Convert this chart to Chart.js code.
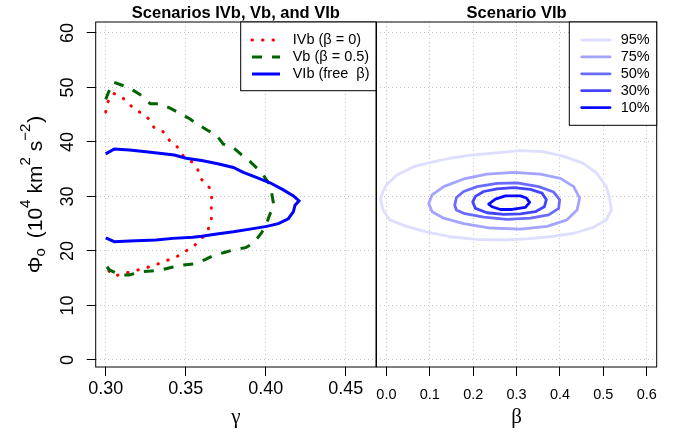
<!DOCTYPE html>
<html>
<head>
<meta charset="utf-8">
<script src="https://cdn.jsdelivr.net/npm/chart.js@4.4.1/dist/chart.umd.min.js"></script>
<style>
  html, body { margin: 0; padding: 0; background: #fff; }
  #wrap { position: relative; width: 683px; height: 437px; overflow: hidden; }
  canvas { position: absolute; top: 0; }
  #left { left: 0; }
  #right { left: 366px; }
</style>
</head>
<body>
<div id="wrap">
  <canvas id="left" width="377" height="437"></canvas>
  <canvas id="right" width="317" height="437"></canvas>
</div>
<script>
// left panel: gamma vs Phi_o contours
const gammaIVb = [0.300,0.3016,0.305,0.3106,0.3154,0.321,0.3266,0.330,0.3363,0.340,0.345,0.3485,0.354,0.3575,0.360,0.3648,0.3662,0.366,0.366,0.3641,0.3604,0.3554,0.3502,0.3441,0.3379,0.3316,0.3252,0.3188,0.312,0.3056,0.3008];
const phiIVb = [45.5,47.5,48.9,48.1,46.7,45.5,44.3,42.7,41.8,40.2,39.0,37.4,36.3,34.9,33.1,31.6,29.9,27.8,25.9,24.0,22.4,21.0,20.0,18.9,18.2,17.5,16.9,16.4,15.9,15.4,16.6];

const gammaVb = [0.300,0.3019,0.3048,0.3102,0.3175,0.3225,0.3279,0.3338,0.3408,0.346,0.3527,0.3571,0.3638,0.369,0.3735,0.3791,0.3846,0.3891,0.3948,0.3985,0.4027,0.4038,0.4052,0.4027,0.400,0.3971,0.3923,0.3875,0.3798,0.3741,0.3669,0.3621,0.3548,0.3485,0.3414,0.3356,0.3283,0.3223,0.3148,0.3091,0.3023,0.300];
const phiVb = [47.8,49.2,51.0,50.4,49.4,48.5,47.0,47.0,46.1,45.3,44.2,43.3,42.1,41.3,39.6,39.1,37.7,36.7,35.1,33.9,32.1,30.5,28.1,26.8,24.6,23.2,21.4,20.6,20.2,19.7,19.1,18.4,17.6,17.4,17.0,16.6,16.3,16.2,15.6,15.6,16.5,17.4];

const gammaVIb = [0.300,0.3054,0.3148,0.3252,0.3429,0.3502,0.3600,0.3700,0.3798,0.386,0.3933,0.4027,0.411,0.4173,0.4208,0.4183,0.4173,0.4141,0.4079,0.4006,0.3902,0.3798,0.3694,0.3600,0.3544,0.3419,0.3315,0.3148,0.3054,0.300];
const phiVIb = [37.8,38.7,38.5,38.2,37.6,37.0,36.6,36.0,35.3,34.4,33.6,32.5,31.2,30.1,29.2,28.4,27.2,25.9,25.0,24.5,24.0,23.5,23.1,22.7,22.5,22.3,22.0,21.8,21.7,22.4];

// right panel: beta vs Phi_o, scenario VIb contours
const beta95 = [-0.0138,-0.0076,0.0,0.023,0.0615,0.0998,0.1459,0.1998,0.2535,0.3071,0.3611,0.4071,0.4532,0.4839,0.5069,0.5145,0.5184,0.5069,0.4763,0.4302,0.3763,0.3226,0.2689,0.2074,0.1459,0.0922,0.0461,0.0076,-0.0076];
const phi95 = [29.5,31.0,32.1,33.9,35.4,36.2,37.0,37.6,38.0,38.4,38.2,37.4,36.1,34.3,31.8,29.7,27.5,25.7,24.3,23.2,22.6,22.2,22.0,22.1,22.6,23.5,24.5,25.7,27.5];
const beta75 = [0.0975,0.1053,0.132,0.178,0.232,0.2933,0.3548,0.4009,0.4316,0.4454,0.4394,0.4163,0.3703,0.3088,0.2396,0.178,0.132,0.1053];
const phi75 = [28.7,30.3,31.8,33.2,34.1,34.4,34.1,33.3,31.8,29.7,27.5,25.7,24.5,24.0,24.2,25.0,26.0,27.2];
const beta50 = [0.1574,0.1613,0.178,0.209,0.255,0.3011,0.3509,0.3855,0.3993,0.397,0.374,0.3318,0.278,0.2242,0.178,0.1613];
const phi50 = [28.4,29.8,30.9,31.8,32.4,32.5,31.8,30.8,29.4,27.8,26.6,26.0,25.8,26.2,26.9,27.5];
const beta30 = [0.1989,0.205,0.2242,0.255,0.2933,0.3318,0.3587,0.3687,0.364,0.3433,0.3088,0.2703,0.232,0.205];
const phi30 = [29.0,30.0,30.9,31.4,31.6,31.3,30.6,29.4,28.1,27.2,26.8,26.7,27.0,27.8];
const beta10 = [0.2357,0.2512,0.2742,0.3088,0.3226,0.3302,0.3203,0.2896,0.2627,0.2435];
const phi10 = [28.6,29.5,30.1,30.1,29.7,28.9,28.0,27.6,27.6,28.1];

const gammaTicks = [0.30, 0.35, 0.40, 0.45];
const betaTicks = [0.0, 0.1, 0.2, 0.3, 0.4, 0.5, 0.6];
const phiTicks = [0, 10, 20, 30, 40, 50, 60];

const scenarioLabels = ['IVb (\u03b2 = 0)', 'Vb (\u03b2 = 0.5)', 'VIb (free  \u03b2)'];
const contourLabels = ['95%', '75%', '50%', '30%', '10%'];

const sans = "'Liberation Sans', Arial, sans-serif";
const serif = "'Liberation Serif', 'DejaVu Serif', serif";
Chart.defaults.font.family = sans;
Chart.defaults.color = '#000';

const toPts = (xs, ys) => xs.map((x, i) => ({x: x, y: ys[i]}));
const closedPts = (xs, ys) => { const p = toPts(xs, ys); p.push(p[0]); return p; };

// frame round the plot region
const boxPlugin = {
  id: 'box',
  afterDraw(chart) {
    const {ctx, chartArea: a} = chart;
    ctx.save();
    ctx.strokeStyle = '#000';
    ctx.lineWidth = 1;
    ctx.strokeRect(a.left, a.top, a.right - a.left, a.bottom - a.top);
    ctx.restore();
  }
};

// boxed legend in the top right corner
const boxLegend = {
  id: 'boxLegend',
  afterDraw(chart, args, o) {
    const {ctx, chartArea: a} = chart;
    const left = a.right - o.width, top = a.top;
    ctx.save();
    ctx.fillStyle = '#fff';
    ctx.fillRect(left, top, o.width, o.height);
    ctx.strokeStyle = '#000';
    ctx.lineWidth = 1;
    ctx.strokeRect(left, top, o.width, o.height);
    ctx.font = o.size + 'px ' + sans;
    ctx.textBaseline = 'middle';
    chart.data.datasets.forEach((ds, i) => {
      const y = top + o.first + i * o.step;
      ctx.beginPath();
      ctx.strokeStyle = ds.borderColor;
      ctx.lineWidth = ds.borderWidth;
      ctx.setLineDash(ds.borderDash || []);
      ctx.lineCap = ds.borderCapStyle || 'butt';
      ctx.moveTo(left + o.x1, y);
      ctx.lineTo(left + o.x2, y);
      ctx.stroke();
      ctx.fillStyle = '#000';
      ctx.fillText(ds.label, left + o.tx, y);
    });
    ctx.restore();
  }
};

// y axis title with sub- and superscripts
const yTitle = {
  id: 'yTitle',
  afterDraw(chart, args, o) {
    const {ctx, chartArea: a} = chart;
    let total = 0;
    o.parts.forEach(p => { ctx.font = p.size + 'px ' + sans; total += (p.gap || 0) + ctx.measureText(p.text).width; });
    ctx.save();
    ctx.translate(o.x, (a.top + a.bottom) / 2);
    ctx.rotate(-Math.PI / 2);
    ctx.fillStyle = '#000';
    ctx.textBaseline = 'alphabetic';
    ctx.textAlign = 'left';
    let pos = -total / 2;
    o.parts.forEach(p => {
      pos += p.gap || 0;
      ctx.font = p.size + 'px ' + sans;
      ctx.fillText(p.text, pos, p.dy || 0);
      pos += ctx.measureText(p.text).width;
    });
    ctx.restore();
  }
};

const gridOpts = {color: '#c4c4c4', lineWidth: 1, tickColor: '#000', tickLength: 9};
const borderOpts = {display: false, dash: [1, 3]};

new Chart(document.getElementById('left'), {
  type: 'scatter',
  data: {
    datasets: [
      {label: scenarioLabels[0], data: toPts(gammaIVb, phiIVb), showLine: true, pointRadius: 0,
       borderColor: '#ff0000', borderWidth: 3, borderDash: [0.5, 10], borderCapStyle: 'round', order: 3},
      {label: scenarioLabels[1], data: toPts(gammaVb, phiVb), showLine: true, pointRadius: 0,
       borderColor: '#006400', borderWidth: 3, borderDash: [10, 10], borderCapStyle: 'butt', order: 2},
      {label: scenarioLabels[2], data: toPts(gammaVIb, phiVIb), showLine: true, pointRadius: 0,
       borderColor: '#0000ff', borderWidth: 3, order: 1}
    ]
  },
  options: {
    responsive: false,
    animation: false,
    layout: {padding: {left: 0, right: 1, top: 0, bottom: 0}},
    plugins: {
      legend: {display: false},
      tooltip: {enabled: false},
      title: {display: true, text: 'Scenarios IVb, Vb, and VIb', fullSize: false,
              font: {size: 16.5, weight: 'bold', lineHeight: 1}, padding: {top: 5, bottom: 0.5}},
      boxLegend: {width: 135.3, height: 68.7, first: 18, step: 17, x1: 11.3, x2: 39.3, tx: 52, size: 14.5},
      yTitle: {x: 41.5, parts: [
        {text: '\u03a6', size: 21},
        {text: 'o', size: 15, dy: 3},
        {text: '(', size: 21, gap: 10},
        {text: '10', size: 21},
        {text: '4', size: 15, dy: -12},
        {text: 'km', size: 21, gap: 6},
        {text: '2', size: 15, dy: -12},
        {text: 's', size: 21, gap: 6},
        {text: '\u22122', size: 15, dy: -12},
        {text: ')', size: 21, gap: 1}
      ]}
    },
    scales: {
      x: {
        type: 'linear', min: 0.29375, max: 0.4689,
        afterBuildTicks: s => { s.ticks = gammaTicks.map(v => ({value: v})); },
        afterFit: s => { s.height = 70; },
        ticks: {callback: v => v.toFixed(2), font: {size: 18}, padding: 2, maxRotation: 0, autoSkip: false},
        grid: gridOpts, border: borderOpts,
        title: {display: true, text: '\u03b3', font: {family: serif, size: 21}, padding: {top: 0, bottom: 7}}
      },
      y: {
        type: 'linear', min: -1.3, max: 62,
        afterBuildTicks: s => { s.ticks = phiTicks.map(v => ({value: v})); },
        afterFit: s => { s.width = 95.7; },
        ticks: {font: {size: 18}, minRotation: 90, maxRotation: 90, crossAlign: 'center', padding: 8.4, autoSkip: false},
        grid: gridOpts, border: borderOpts
      }
    }
  },
  plugins: [boxPlugin, boxLegend, yTitle]
});

const contourColors = ['#dedeff', '#a4a4ff', '#6a6aff', '#4444ff', '#0808ff'];
const contourSets = [[beta95, phi95], [beta75, phi75], [beta50, phi50], [beta30, phi30], [beta10, phi10]];

new Chart(document.getElementById('right'), {
  type: 'scatter',
  data: {
    datasets: contourSets.map((c, i) => ({
      label: contourLabels[i], data: closedPts(c[0], c[1]), showLine: true, pointRadius: 0,
      borderColor: contourColors[i], borderWidth: 2.8, borderCapStyle: 'round', borderJoinStyle: 'round'
    }))
  },
  options: {
    responsive: false,
    animation: false,
    layout: {padding: {left: 10, right: 26.3, top: 0, bottom: 0}},
    plugins: {
      legend: {display: false},
      tooltip: {enabled: false},
      title: {display: true, text: 'Scenario VIb', fullSize: false,
              font: {size: 16.5, weight: 'bold', lineHeight: 1}, padding: {top: 5, bottom: 0.5}},
      boxLegend: {width: 87.4, height: 103.3, first: 18, step: 16.9, x1: 12.4, x2: 40.7, tx: 51.4, size: 14.5}
    },
    scales: {
      x: {
        type: 'linear', min: -0.023, max: 0.623,
        afterBuildTicks: s => { s.ticks = betaTicks.map(v => ({value: v})); },
        afterFit: s => { s.height = 70; },
        ticks: {callback: v => v.toFixed(1), font: {size: 14.5}, padding: 10, maxRotation: 0, autoSkip: false},
        grid: gridOpts, border: borderOpts,
        title: {display: true, text: '\u03b2', font: {family: serif, size: 21}, padding: {top: 0, bottom: 6.5}}
      },
      y: {
        type: 'linear', min: -1.3, max: 62,
        afterBuildTicks: s => { s.ticks = phiTicks.map(v => ({value: v})); },
        afterFit: s => { s.width = 0; },
        ticks: {display: false},
        grid: {color: '#c4c4c4', lineWidth: 1, drawTicks: false}, border: borderOpts
      }
    }
  },
  plugins: [boxPlugin, boxLegend]
});
</script>
</body>
</html>
